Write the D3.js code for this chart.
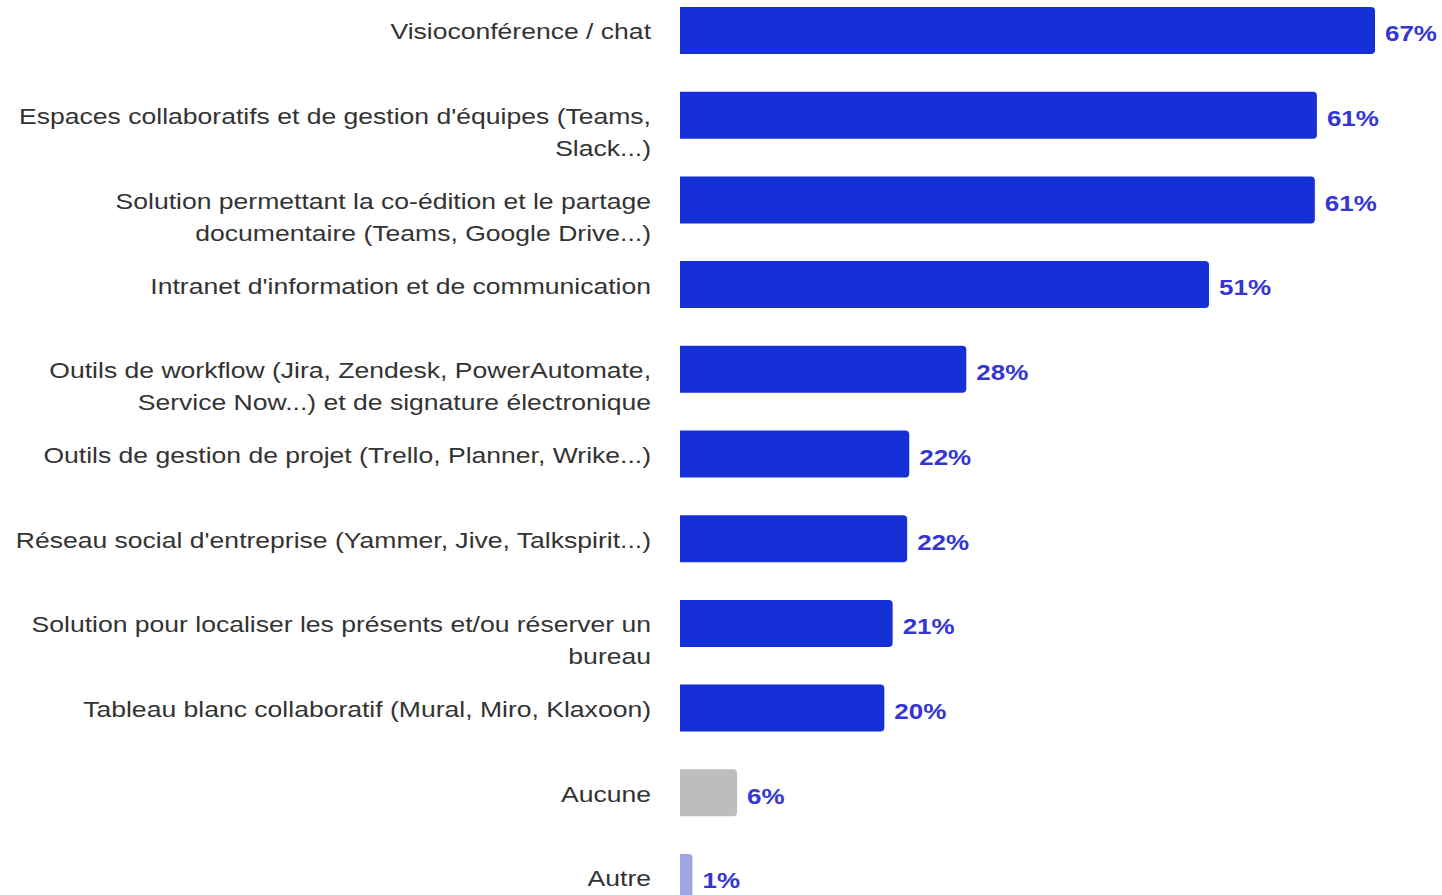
<!DOCTYPE html>
<html>
<head>
<meta charset="utf-8">
<script src="https://cdn.jsdelivr.net/npm/d3@7"></script>
<style>
  html, body { margin: 0; padding: 0; background: #fff; overflow: hidden; }
  svg { display: block; }
</style>
</head>
<body>
<svg id="chart" width="1442" height="895"></svg>
<script>
// categories (line breaks as in the original wrapping)
var categories = [
    "Visioconférence / chat",
    "Espaces collaboratifs et de gestion d'équipes (Teams,\nSlack...)",
    "Solution permettant la co-édition et le partage\ndocumentaire (Teams, Google Drive...)",
    "Intranet d'information et de communication",
    "Outils de workflow (Jira, Zendesk, PowerAutomate,\nService Now...) et de signature électronique",
    "Outils de gestion de projet (Trello, Planner, Wrike...)",
    "Réseau social d'entreprise (Yammer, Jive, Talkspirit...)",
    "Solution pour localiser les présents et/ou réserver un\nbureau",
    "Tableau blanc collaboratif (Mural, Miro, Klaxoon)",
    "Aucune",
    "Autre"
];
var values = [67.0, 61.4, 61.2, 51.0, 27.6, 22.1, 21.9, 20.5, 19.7, 5.5, 1.2];
var barColors = ["#1530d6", "#1530d6", "#1530d6", "#1530d6", "#1530d6", "#1530d6",
                 "#1530d6", "#1530d6", "#1530d6", "#bdbdbd", "#9fa6de"];

var svg = d3.select('#chart');

// the original text is a bit wider than the font's natural width
var stretch = 1.18;

var x = d3.scaleLinear().domain([0, 67]).range([680, 1375]);
var step = 84.7;
var y = d3.scaleBand()
    .domain(categories)
    .range([-11.85, -11.85 + step * categories.length])
    .paddingInner(0.445)
    .paddingOuter(0.2225);

// bar with rounded right corners only
function barPath(x0, y0, w, h, r) {
    r = Math.min(r, w / 2, h / 2);
    return "M" + x0 + "," + y0 +
        "H" + (x0 + w - r) +
        "Q" + (x0 + w) + "," + y0 + " " + (x0 + w) + "," + (y0 + r) +
        "V" + (y0 + h - r) +
        "Q" + (x0 + w) + "," + (y0 + h) + " " + (x0 + w - r) + "," + (y0 + h) +
        "H" + x0 + "Z";
}

var rows = categories.map(function(c, i) {
    return { cat: c, value: values[i], color: barColors[i] };
});

var g = svg.append('g');

g.selectAll('path.bar')
    .data(rows)
    .join('path')
    .attr('class', 'bar')
    .attr('fill', function(d) { return d.color; })
    .attr('d', function(d) {
        return barPath(x(0), y(d.cat), x(d.value) - x(0), y.bandwidth(), 4);
    });

// value labels
g.selectAll('text.val')
    .data(rows)
    .join('text')
    .attr('class', 'val')
    .attr('transform', function(d) {
        return "translate(" + (x(d.value) + 10) + "," + (y(d.cat) + y.bandwidth() / 2 + 5) + ") scale(" + stretch + ",1)";
    })
    .attr('dominant-baseline', 'middle')
    .attr('font-family', '"Liberation Sans", Arial, sans-serif')
    .attr('font-weight', 700)
    .attr('font-size', '22px')
    .attr('fill', '#3436d4')
    .text(function(d) { return Math.round(d.value) + '%'; });

// category labels, right aligned
var lab = g.selectAll('text.cat')
    .data(rows)
    .join('text')
    .attr('class', 'cat')
    .attr('text-anchor', 'end')
    .attr('font-family', '"Liberation Sans", Arial, sans-serif')
    .attr('font-size', '22.5px')
    .attr('fill', '#333333')
    .attr('transform', function(d) {
        return "translate(651," + (y(d.cat) + y.bandwidth() / 2 + 3) + ") scale(" + stretch + ",1)";
    });

lab.selectAll('tspan')
    .data(function(d) { return d.cat.split("\n"); })
    .join('tspan')
    .attr('x', 0)
    .attr('y', function(d, i) { return i * 32; })
    .attr('dominant-baseline', 'middle')
    .text(function(d) { return d; });
</script>
</body>
</html>
